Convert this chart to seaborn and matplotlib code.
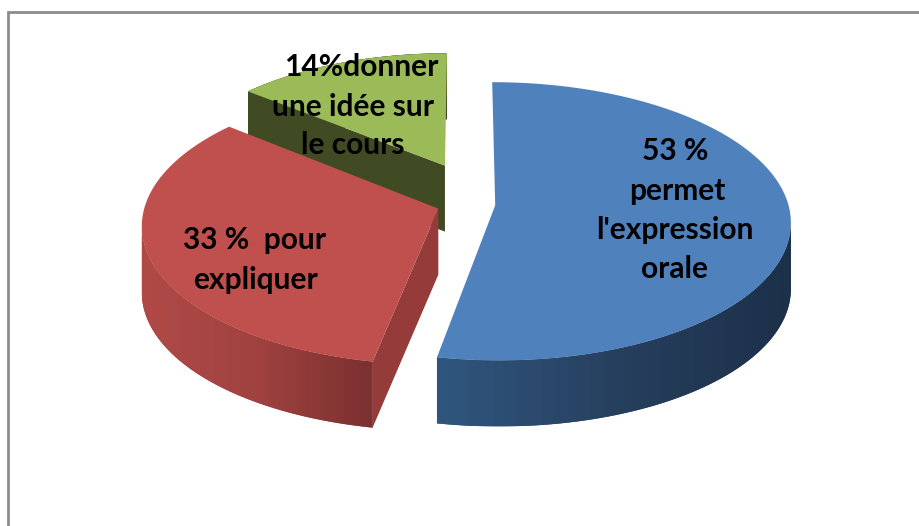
import numpy as np
import seaborn as sns
import matplotlib
matplotlib.use('Agg')
import matplotlib.pyplot as plt

# donnees
valeurs = [53, 33, 14]
explode = [0.10, 0.10, 0.32]
decalage_u = [0.0, 0.0, 0.062]
echelle = [1.0, 1.0, 0.97]
noms = ['bleu', 'rouge', 'vert']

etiquettes = [
    ['53 %', 'permet', "l'expression", 'orale'],
    ['33 %  pour', 'expliquer'],
    ['14%donner', 'une idée sur', 'le cours'],
]
etiquettes_x = [[675, 677, 675, 675], [255, 255], [361, 353, 353]]
etiquettes_y = [[151, 191, 230, 269], [240, 280], [67, 107, 145]]

# couleurs
dessus = {'bleu': '#4F81BD', 'rouge': '#C0504D', 'vert': '#9BBB59'}
coupe = {'rouge': '#953B39', 'vert': '#404B24'}
cote = {'bleu': ['#30567F', '#27405F', '#1C3049'],
        'rouge': ['#B04A47', '#A04240', '#7A3130'],
        'vert': ['#5D7036', '#4A5A2A', '#404B24']}

# projection du camembert (perspective)
cx, cy = 466, 204
A, B, k = 293, 137, 0.115
hauteur = 66


def proj(u, v, bas=0):
    s = 1 / (1 + k * np.asarray(v))
    return cx + A * np.asarray(u) * s, cy - B * np.asarray(v) * s + bas


sns.set_theme(style='white')
plt.rcParams['font.family'] = ['Lato', 'DejaVu Sans']

fig, ax = plt.subplots(figsize=(9.2, 5.26), dpi=100)
fig.subplots_adjust(0, 0, 1, 1)

# le pie donne les angles et les centres
wedges, _ = ax.pie(valeurs, startangle=90, counterclock=False, explode=explode)
parts = [(w.theta1, w.theta2, w.center, w.r) for w in wedges]
for w in wedges:
    w.remove()

z = 1
# on dessine du fond vers l'avant
for i in [2, 1, 0]:
    nom = noms[i]
    t1, t2, centre, r = parts[i]
    t = np.radians(np.linspace(t1, t2, 160))
    u0 = centre[0] + decalage_u[i]
    v0 = centre[1]
    u = u0 + r * echelle[i] * np.cos(t)
    v = v0 + r * echelle[i] * np.sin(t)

    # cote arrondi avec degrade (partie avant seulement)
    x_h, y_h = proj(u, v)
    a, b = sorted([x_h.argmin(), x_h.argmax()])
    x_av, y_av = x_h[a:b + 1], y_h[a:b + 1]
    x_b, y_b = proj(u[a:b + 1], v[a:b + 1], hauteur)
    bord = ax.fill(np.r_[x_av, x_b[::-1]], np.r_[y_av, y_b[::-1]],
                   color=cote[nom][1], lw=0, zorder=z)[0]
    im = ax.imshow(np.linspace(0, 1, 256)[None, :], aspect='auto',
                   extent=[x_av.min(), x_av.max(), y_b.max(), y_av.min()],
                   cmap=sns.blend_palette(cote[nom], as_cmap=True), zorder=z + 1)
    im.set_clip_path(bord)

    # face coupee visible (pas pour le bleu)
    if nom in coupe:
        x1, y1 = proj([u0, u[-1]], [v0, v[-1]])
        x2, y2 = proj([u[-1], u0], [v[-1], v0], hauteur)
        ax.fill(np.r_[x1, x2], np.r_[y1, y2], color=coupe[nom], lw=0, zorder=z + 2)

    # dessus
    x, y = proj(np.r_[u0, u], np.r_[v0, v])
    ax.fill(x, y, color=dessus[nom], lw=0, zorder=z + 3)
    z += 4

# textes
for lignes, xs, ys in zip(etiquettes, etiquettes_x, etiquettes_y):
    for txt, x, y in zip(lignes, xs, ys):
        ax.text(x, y, txt, ha='center', va='center', fontsize=21.5,
                fontweight='bold', color='black', zorder=z)

# cadre gris haut et gauche
ax.plot([8.5, 8.5, 920], [526, 11.5, 11.5], color='#8C8C8C', lw=2,
        solid_joinstyle='miter', zorder=z)

ax.set_aspect('auto')
ax.set_xlim(0, 920)
ax.set_ylim(526, 0)
ax.axis('off')

fig.savefig('out.png', dpi=100)
